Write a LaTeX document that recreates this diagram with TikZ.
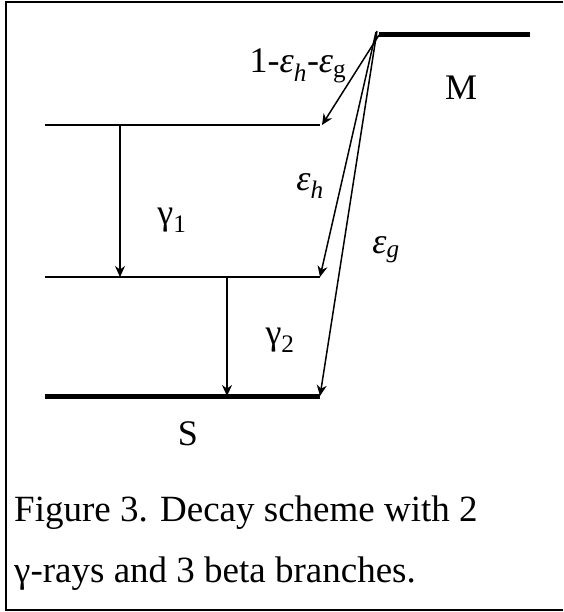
\documentclass[tikz,border=0pt]{standalone}
\usepackage{fontspec}
\usetikzlibrary{arrows.meta}
\setmainfont{Liberation Serif}
\begin{document}
\begin{tikzpicture}[x=1pt, y=-1pt,
        thinlevel/.style={line width=2pt},
        thicklevel/.style={line width=5pt},
        transition/.style={-{Stealth[length=11pt, width=10pt]}, line width=1.5pt},
        lbl/.style={font=\fontsize{36}{40}\selectfont, inner sep=0pt},
        caption/.style={font=\fontsize{37}{41}\selectfont, inner sep=0pt, anchor=base west}]
        \useasboundingbox (0,0) rectangle (563,612);
        \draw[line width=2pt] (563,2) -- (6,2) -- (6,610) -- (563,610);
        % levels
        \coordinate (mleft) at (379,35);
        \coordinate (mright) at (530,35);
        \coordinate (aleft) at (45,125);
        \coordinate (aright) at (320,125);
        \coordinate (bleft) at (45,277);
        \coordinate (bright) at (320,277);
        \coordinate (sleft) at (45,396);
        \coordinate (sright) at (320,396);
        \draw[thicklevel] (mleft) -- (mright);
        \draw[thinlevel] (aleft) -- (aright);
        \draw[thinlevel] (bleft) -- (bright);
        \draw[thicklevel] (sleft) -- (sright);
        % gamma rays
        \coordinate (g1top) at (120,125);
        \coordinate (g1bot) at (120,277);
        \coordinate (g2top) at (227,277);
        \coordinate (g2bot) at (227,396);
        \draw[transition] (g1top) -- (g1bot);
        \draw[transition] (g2top) -- (g2bot);
        % beta branches
        \draw[transition] (mleft) -- ([xshift=2pt]aright);
        \draw[transition] ([xshift=-3pt,yshift=3pt]mleft) -- (bright);
        \draw[transition] ([xshift=-2pt,yshift=4pt]mleft) -- (sright);
        % labels
        \node[lbl] (lbltop) at (298,66) {1-\textit{ε\textsubscript{h}}-\textit{ε}\textsubscript{g}};
        \node[lbl] (lblm) at (461,88) {M};
        \node[lbl] (lbleh) at (310,186) {\textit{ε\textsubscript{h}}};
        \node[lbl] (lbleg) at (386,250) {\textit{ε\textsubscript{g}}};
        \node[lbl] (lblg1) at (172,220) {γ\textsubscript{1}};
        \node[lbl] (lblg2) at (280,340) {γ\textsubscript{2}};
        \node[lbl] (lbls) at (188,434) {S};
        \node[caption] (cap1) at (14,521) {Figure 3. Decay scheme with 2};
        \node[caption] (cap2) at (14,582) {γ-rays and 3 beta branches.};
    \end{tikzpicture}
\end{document}
